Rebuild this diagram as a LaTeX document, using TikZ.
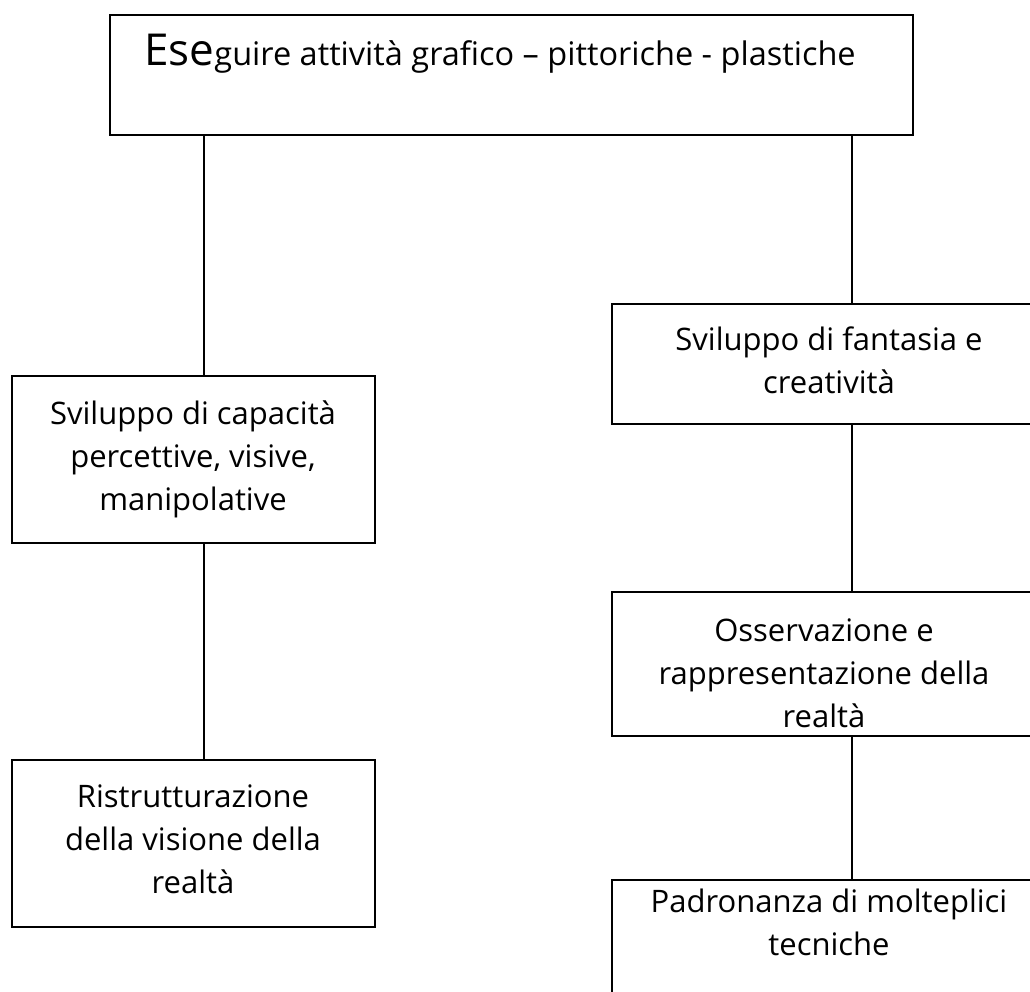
\documentclass[tikz,border=0pt]{standalone}
\usepackage{fontspec}
\setmainfont{Open Sans}
\begin{document}
\begin{tikzpicture}[x=1pt,y=-1pt,
  box/.style={draw, line width=1.9pt, inner sep=0pt},
  txt/.style={align=center, font=\fontsize{31}{43}\selectfont, inner sep=0pt, anchor=base},
  conn/.style={line width=1.5pt}]
\useasboundingbox (0,0) rectangle (1030,992);
\clip (0,0) rectangle (1030,992);
% boxes
\node[box, minimum width=803pt, minimum height=120pt] (top) at (511.5,75) {};
\node[box, minimum width=363pt, minimum height=167pt] (L1) at (193.5,459.5) {};
\node[box, minimum width=363pt, minimum height=167pt] (L2) at (193.5,843.5) {};
\node[box, minimum width=434pt, minimum height=120pt] (R1) at (829,364) {};
\node[box, minimum width=434pt, minimum height=144pt] (R2) at (829,664) {};
\node[box, minimum width=434pt, minimum height=130pt] (R3) at (829,945) {};
% texts
\node[txt, font=\fontsize{32.5}{43}\selectfont] (ttop) at (500,66) {{\fontsize{44}{43}\selectfont Ese}guire attività grafico – pittoriche - plastiche};
\node[txt] (tL1) at (193,510) {Sviluppo di capacità\\percettive, visive,\\manipolative};
\node[txt] (tL2) at (193,893) {Ristrutturazione\\della visione della\\realtà};
\node[txt] (tR1) at (829,393) {Sviluppo di fantasia e\\creatività};
\node[txt] (tR2) at (824,727) {Osservazione e\\rappresentazione della\\realtà};
\node[txt] (tR3) at (829,955) {Padronanza di molteplici\\tecniche};
% connectors
\coordinate (lx) at (204,0);
\coordinate (rx) at (852,0);
\draw[conn] (top.south -| lx) -- (L1.north -| lx);
\draw[conn] (L1.south -| lx) -- (L2.north -| lx);
\draw[conn] (top.south -| rx) -- (R1.north -| rx);
\draw[conn] (R1.south -| rx) -- (R2.north -| rx);
\draw[conn] (R2.south -| rx) -- (R3.north -| rx);
\end{tikzpicture}
\end{document}
